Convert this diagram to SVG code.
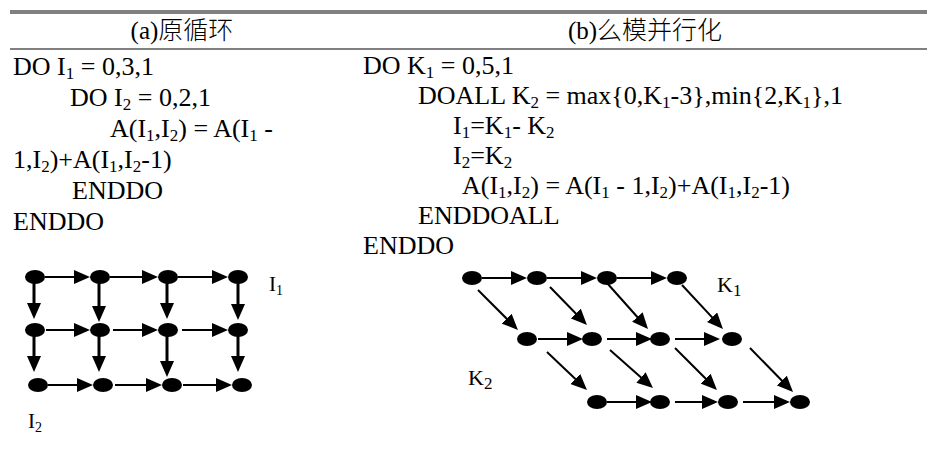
<svg xmlns="http://www.w3.org/2000/svg" width="927" height="457" viewBox="0 0 927 457">
  <style>
    .hd { font-family: "Liberation Serif", "Noto Sans CJK SC", serif; font-size: 25px; fill: #000; text-anchor: middle; }
    .cj { font-family: "Noto Sans CJK SC", sans-serif; font-weight: 300; }
    .code { font-family: "Liberation Serif", "Times New Roman", serif; font-size: 26px; fill: #000; }
    .lab { font-family: "Liberation Serif", "Times New Roman", serif; font-size: 21px; fill: #000; }
    .sub { font-size: 17px; baseline-shift: -4px; }
    .rule { stroke: #808080; fill: none; }
    .node { fill: #000; }
    .edge { stroke: #000; stroke-width: 2; fill: none; marker-end: url(#head); }
    .edge.thick { stroke-width: 3; }
  </style>
  <defs>
    <marker id="head" viewBox="0 0 16 14" markerWidth="16" markerHeight="14" markerUnits="userSpaceOnUse" refX="8" refY="7" orient="auto">
      <path d="M0,0 L16,7 L0,14 Z" fill="#000"/>
    </marker>
  </defs>

  <!-- table rules -->
  <g id="rules">
    <line class="rule" x1="10" y1="12" x2="927" y2="12" stroke-width="4"/>
    <line class="rule" x1="10" y1="49" x2="927" y2="49" stroke-width="2"/>
  </g>

  <!-- column headers -->
  <g id="headers">
    <text class="hd" x="182" y="39">(a)<tspan class="cj">原循环</tspan></text>
    <text class="hd" x="645" y="39">(b)<tspan class="cj">么模并行化</tspan></text>
  </g>

  <!-- (a) original loop -->
  <g id="code-a" class="code">
    <text x="13" y="75">DO I<tspan class="sub">1</tspan> = 0,3,1</text>
    <text x="70" y="106">DO I<tspan class="sub">2</tspan> = 0,2,1</text>
    <text x="110" y="137">A(I<tspan class="sub">1</tspan>,I<tspan class="sub">2</tspan>) = A(I<tspan class="sub">1</tspan> -</text>
    <text x="13" y="168">1,I<tspan class="sub">2</tspan>)+A(I<tspan class="sub">1</tspan>,I<tspan class="sub">2</tspan>-1)</text>
    <text x="72" y="199">ENDDO</text>
    <text x="13" y="230">ENDDO</text>
  </g>

  <!-- (b) unimodular-transformed parallel loop -->
  <g id="code-b" class="code">
    <text x="363" y="74">DO K<tspan class="sub">1</tspan> = 0,5,1</text>
    <text x="418" y="104">DOALL K<tspan class="sub">2</tspan> = max{0,K<tspan class="sub">1</tspan>-3},min{2,K<tspan class="sub">1</tspan>},1</text>
    <text x="453" y="134">I<tspan class="sub">1</tspan>=K<tspan class="sub">1</tspan>- K<tspan class="sub">2</tspan></text>
    <text x="453" y="164">I<tspan class="sub">2</tspan>=K<tspan class="sub">2</tspan></text>
    <text x="462" y="194">A(I<tspan class="sub">1</tspan>,I<tspan class="sub">2</tspan>) = A(I<tspan class="sub">1</tspan> - 1,I<tspan class="sub">2</tspan>)+A(I<tspan class="sub">1</tspan>,I<tspan class="sub">2</tspan>-1)</text>
    <text x="418" y="224">ENDDOALL</text>
    <text x="363" y="254">ENDDO</text>
  </g>

  <!-- dependence graph (a): connectors -->
  <g id="edges-a">
    <line class="edge" x1="45" y1="277" x2="82" y2="277"/>
    <line class="edge" x1="110" y1="277" x2="150" y2="277"/>
    <line class="edge" x1="178" y1="277" x2="220" y2="277"/>
    <line class="edge" x1="46" y1="330" x2="82" y2="330"/>
    <line class="edge" x1="113" y1="330" x2="150" y2="330"/>
    <line class="edge" x1="182" y1="330" x2="220" y2="330"/>
    <line class="edge" x1="48" y1="385" x2="85" y2="385"/>
    <line class="edge" x1="115" y1="385" x2="154" y2="385"/>
    <line class="edge" x1="183" y1="385" x2="224" y2="385"/>
    <line class="edge thick" x1="34" y1="283" x2="34" y2="311"/>
    <line class="edge thick" x1="99" y1="283" x2="99" y2="314"/>
    <line class="edge thick" x1="167" y1="283" x2="167" y2="311"/>
    <line class="edge thick" x1="238" y1="283" x2="238" y2="312"/>
    <line class="edge thick" x1="34" y1="336" x2="34" y2="364"/>
    <line class="edge thick" x1="99" y1="336" x2="99" y2="364"/>
    <line class="edge thick" x1="167" y1="336" x2="167" y2="369"/>
    <line class="edge thick" x1="238" y1="336" x2="238" y2="364"/>
  </g>

  <!-- dependence graph (a): iteration nodes -->
  <g id="nodes-a" class="node">
    <ellipse id="a00" cx="35" cy="277" rx="10" ry="7"/>
    <ellipse id="a10" cx="100" cy="277" rx="10" ry="7"/>
    <ellipse id="a20" cx="168" cy="277" rx="10" ry="7"/>
    <ellipse id="a30" cx="238" cy="277" rx="10" ry="7"/>
    <ellipse id="a01" cx="35" cy="330" rx="10" ry="7"/>
    <ellipse id="a11" cx="100" cy="330" rx="10" ry="7"/>
    <ellipse id="a21" cx="168" cy="330" rx="10" ry="7"/>
    <ellipse id="a31" cx="238" cy="330" rx="10" ry="7"/>
    <ellipse id="a02" cx="38" cy="385" rx="10" ry="7"/>
    <ellipse id="a12" cx="103" cy="385" rx="10" ry="7"/>
    <ellipse id="a22" cx="172" cy="385" rx="10" ry="7"/>
    <ellipse id="a32" cx="242" cy="385" rx="10" ry="7"/>
  </g>
  <g id="labels-a" class="lab">
    <text x="269" y="291">I<tspan class="sub" style="font-size:14px">1</tspan></text>
    <text x="28" y="428">I<tspan class="sub" style="font-size:14px">2</tspan></text>
  </g>

  <!-- dependence graph (b): connectors -->
  <g id="edges-b">
    <line class="edge" x1="482" y1="278" x2="519" y2="278"/>
    <line class="edge" x1="547" y1="278" x2="589" y2="278"/>
    <line class="edge" x1="617" y1="278" x2="659" y2="278"/>
    <line class="edge" x1="538" y1="339" x2="575" y2="339"/>
    <line class="edge" x1="607" y1="339" x2="644" y2="339"/>
    <line class="edge" x1="675" y1="339" x2="712" y2="339"/>
    <line class="edge" x1="607" y1="402" x2="644" y2="402"/>
    <line class="edge" x1="675" y1="402" x2="710" y2="402"/>
    <line class="edge" x1="743" y1="402" x2="782" y2="402"/>
    <line class="edge" x1="478" y1="290" x2="512.3" y2="324.3"/>
    <line class="edge" x1="550" y1="287" x2="581.4" y2="319.3"/>
    <line class="edge" x1="607" y1="283" x2="642.7" y2="323"/>
    <line class="edge" x1="682" y1="285" x2="717.5" y2="323.1"/>
    <line class="edge" x1="547" y1="352" x2="581.2" y2="384.5"/>
    <line class="edge" x1="610" y1="350" x2="647" y2="382.7"/>
    <line class="edge" x1="675" y1="348" x2="711.3" y2="384.3"/>
    <line class="edge" x1="750" y1="348" x2="787.4" y2="386.3"/>
  </g>

  <!-- dependence graph (b): iteration nodes -->
  <g id="nodes-b" class="node">
    <ellipse id="b00" cx="472" cy="278" rx="10" ry="7"/>
    <ellipse id="b10" cx="537" cy="278" rx="10" ry="7"/>
    <ellipse id="b20" cx="607" cy="278" rx="10" ry="7"/>
    <ellipse id="b30" cx="677" cy="278" rx="10" ry="7"/>
    <ellipse id="b11" cx="527" cy="339" rx="10" ry="7"/>
    <ellipse id="b21" cx="592" cy="339" rx="10" ry="7"/>
    <ellipse id="b31" cx="660" cy="339" rx="10" ry="7"/>
    <ellipse id="b41" cx="732" cy="339" rx="10" ry="7"/>
    <ellipse id="b22" cx="597" cy="402" rx="10" ry="7"/>
    <ellipse id="b32" cx="660" cy="402" rx="10" ry="7"/>
    <ellipse id="b42" cx="728" cy="402" rx="10" ry="7"/>
    <ellipse id="b52" cx="800" cy="402" rx="10" ry="7"/>
  </g>
  <g id="labels-b" class="lab" style="font-size:22px">
    <text x="717" y="292">K<tspan class="sub" style="font-size:17px">1</tspan></text>
    <text x="468" y="385">K<tspan class="sub" style="font-size:17px">2</tspan></text>
  </g>
</svg>
